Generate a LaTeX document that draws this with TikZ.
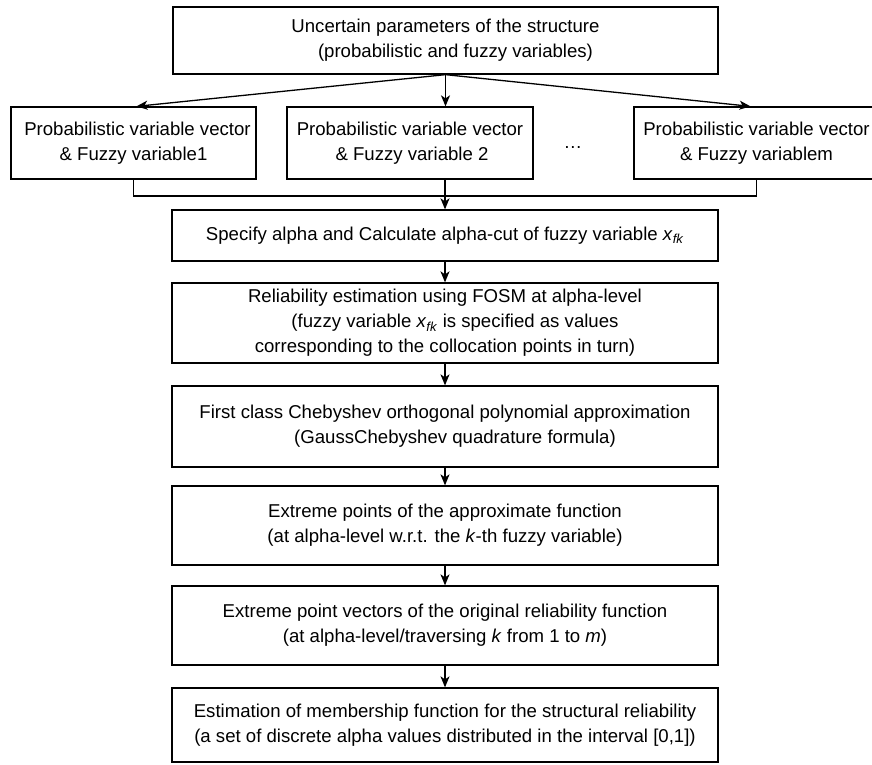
\documentclass[tikz,border=0pt]{standalone}
\usepackage{fontspec}
\setmainfont{Liberation Sans}
\usetikzlibrary{arrows.meta}
\newcommand\xfk{\textit{x}\textsubscript{\textit{fk}}}
\tikzset{
  box/.style={draw, line width=1.3pt, inner sep=0pt, align=center,
    font=\fontsize{18.6}{25}\selectfont},
  arr/.style={line width=1.3pt, -{Stealth[length=11pt,width=9pt,inset=3pt]}},
  ln/.style={line width=1.3pt},
}
\begin{document}
\begin{tikzpicture}[x=1pt,y=-1pt]
\clip (0,0) rectangle (872,764);
\node[box, minimum width=545pt, minimum height=67pt] (top) at (445.5,40.5)
  {Uncertain parameters of the structure\\ \hspace*{20pt}(probabilistic and fuzzy variables)};
\node[box, minimum width=245pt, minimum height=72pt] (pv1) at (133.5,143)
  {\hspace*{8pt}Probabilistic variable vector\\ \& Fuzzy variable1};
\node[box, minimum width=246pt, minimum height=72pt] (pv2) at (410,143)
  {Probabilistic variable vector\\ \hspace*{4pt}\& Fuzzy variable 2};
\node[box, minimum width=245pt, minimum height=72pt] (pvm) at (756.5,143)
  {Probabilistic variable vector\\ \& Fuzzy variablem};
\node[anchor=base, inner sep=0pt, font=\fontsize{18.6}{25}\selectfont] (dots) at (573,148) {…};
\node[box, minimum width=546pt, minimum height=51pt] (s3) at (445,235.5)
  {Specify alpha and Calculate alpha-cut of fuzzy variable \xfk};
\node[box, minimum width=546pt, minimum height=80pt] (s4) at (445,323)
  {Reliability estimation using FOSM at alpha-level\\ \hspace*{20pt}(fuzzy variable \xfk{} is specified as values\\ corresponding to the collocation points in turn)};
\node[box, minimum width=546pt, minimum height=81pt] (s5) at (445,426.5)
  {First class Chebyshev orthogonal polynomial approximation\\ \hspace*{20pt}(GaussChebyshev quadrature formula)};
\node[box, minimum width=546pt, minimum height=79pt] (s6) at (445,525.5)
  {Extreme points of the approximate function\\ (at alpha-level w.r.t. the \textit{k}-th fuzzy variable)};
\node[box, minimum width=546pt, minimum height=79pt] (s7) at (445,625.5)
  {Extreme point vectors of the original reliability function\\ (at alpha-level/traversing \textit{k} from 1 to \textit{m})};
\node[box, minimum width=546pt, minimum height=74pt] (s8) at (445,725)
  {Estimation of membership function for the structural reliability\\ (a set of discrete alpha values distributed in the interval [0,1])};
\coordinate (br) at (445,196);
\draw[arr] (top.south) -- ([xshift=3pt]pv1.north);
\draw[arr] (top.south) -- (top.south |- pv2.north);
\draw[arr] (top.south) -- ([xshift=-6pt]pvm.north);
\draw[ln] (pv1.south) |- (br) -| (pvm.south);
\draw[arr] (pv2.south -| s3.north) -- (s3.north);
\draw[arr] (s3) -- (s4);
\draw[arr] (s4) -- (s5);
\draw[arr] (s5) -- (s6);
\draw[arr] (s6) -- (s7);
\draw[arr] (s7) -- (s8);
\end{tikzpicture}
\end{document}
